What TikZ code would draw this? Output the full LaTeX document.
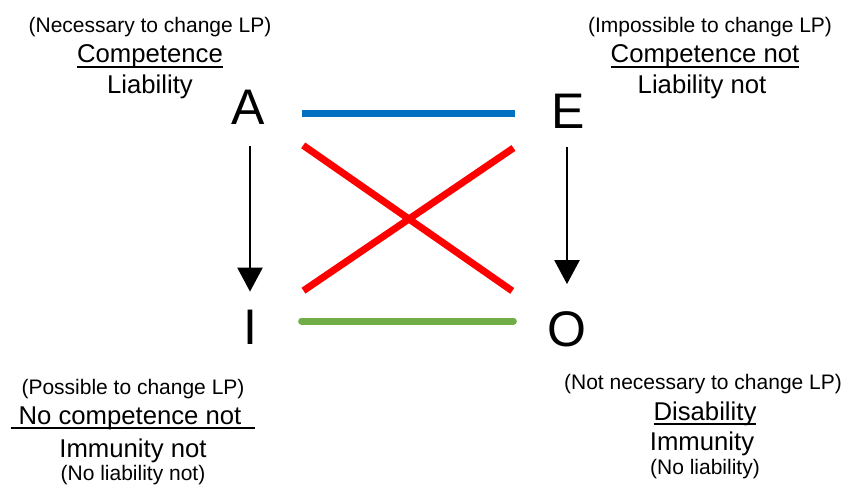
\documentclass[tikz,border=0pt]{standalone}
\usepackage{fontspec}
\setmainfont{Liberation Sans}
\usetikzlibrary{positioning,arrows.meta}

\definecolor{lineblue}{RGB}{0,112,192}
\definecolor{linegreen}{RGB}{112,173,71}
\newcommand{\ulined}[1]{\setbox0\hbox{#1}\rlap{\rule[-5pt]{\wd0}{2pt}}\box0}

\begin{document}
\begin{tikzpicture}[
    x=1pt, y=-1pt,
    >={Triangle[width=25pt,length=24pt]},
    corner/.style={
		font=\fontsize{50}{50}\selectfont,
		inner sep=0pt
	},
	note/.style={
		font=\fontsize{21}{24}\selectfont,
		inner sep=0pt,
		anchor=base
	},
	term/.style={
		font=\fontsize{25.7}{30}\selectfont,
		inner sep=0pt,
		anchor=base
	},
	imply/.style={
		->,
		line width=2.5pt
	},
	contrary/.style={
		line width=7pt,
		draw=lineblue
	},
	contradict/.style={
		line width=7pt,
		draw=red
	},
	subcontrary/.style={
		line width=7pt,
		line cap=round,
		draw=linegreen
	}
  ]

 \useasboundingbox (0,0) rectangle (846,487);

% // The corners
 \node [corner] (A) at (248,107) {A};
 \node [corner] (E) at (568,111) {E};
 \node [corner] (I) at (250,327) {I};
 \node [corner] (O) at (567,329) {O};

% // A
 \node [note] (Anec) at (150,33) {(Necessary to change LP)};
 \node [term, below=30pt of Anec.base, anchor=base] (Acomp) {\ulined{Competence}};
 \node [term, below=30pt of Acomp.base, anchor=base] (Aliab) {Liability};

% // E
 \node [note] (Eimp) at (710,33) {(Impossible to change LP)};
 \node [term, below=30pt of Eimp.base, anchor=base, xshift=-5pt] (Ecomp) {\ulined{Competence not}};
 \node [term, below=30pt of Ecomp.base, anchor=base, xshift=-3pt] (Eliab) {Liability not};

% // I
 \node [note] (Ipos) at (133,394) {(Possible to change LP)};
 \node [term, below=30pt of Ipos.base, anchor=base] (Icomp) {\ulined{\hspace{8pt}No competence not\hspace{14pt}}};
 \node [term, below=33pt of Icomp.base, anchor=base] (Iimm) {Immunity not};
 \node [note, below=23pt of Iimm.base, anchor=base] (Iliab) {(No liability not)};

% // O
 \node [note] (Onec) at (703,389) {(Not necessary to change LP)};
 \node [term, below=31pt of Onec.base, anchor=base, xshift=2pt] (Odis) {\ulined{Disability}};
 \node [term, below=30pt of Odis.base, anchor=base, xshift=-3pt] (Oimm) {Immunity};
 \node [note, below=24pt of Oimm.base, anchor=base, xshift=3pt] (Oliab) {(No liability)};

% // The square
 \draw [contrary, shorten <=37pt, shorten >=36pt] ([yshift=-6pt]A.east) -- ([yshift=-2pt]E.west);
 \draw [subcontrary, shorten <=44.5pt, shorten >=34pt] ([yshift=6pt]I.east) -- ([yshift=8pt]O.west);
 \draw [contradict, shorten <=46.7pt, shorten >=42.8pt] (A) -- (O);
 \draw [contradict, shorten <=45.5pt, shorten >=56pt] (E) -- (I);
 \draw [imply, shorten <=22pt, shorten >=18pt] (A.south -| I.north) -- (I);
 \draw [imply, shorten <=19pt, shorten >=27pt] (E.south -| O.north) -- (O);

\end{tikzpicture}
\end{document}
